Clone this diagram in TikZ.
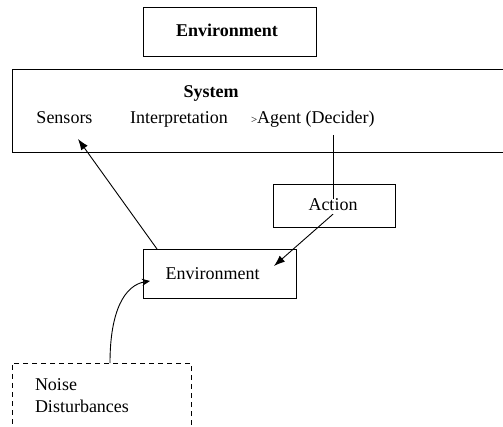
\documentclass[tikz,border=0pt]{standalone}
\usepackage{fontspec}
\setmainfont{Liberation Serif}
\usetikzlibrary{arrows.meta}

\tikzstyle{main}   = [inner sep=0pt, outer sep=0pt, anchor=base, font=\fontsize{18}{22}\selectfont]
\tikzstyle{frame}  = [draw, line width=0.9pt, inner sep=0pt, outer sep=0pt]
\tikzstyle{dframe} = [frame, dash pattern=on 5pt off 4pt]
\tikzstyle{link}   = [line width=0.9pt, -{Latex[length=11pt,width=8pt]}]
\tikzstyle{plain}  = [line width=0.9pt]

\begin{document}
\begin{tikzpicture}[x=1pt, y=-1pt]
  \useasboundingbox (0,0) rectangle (503,427);
  \draw
    node[frame, minimum width=173pt, minimum height=49pt] (envtop) at (229.5,31.5) {}
    node[frame, minimum width=500pt, minimum height=83pt] (system) at (262,110.5) {}
    node[frame, minimum width=122pt, minimum height=43pt] (actbox) at (334,205.5) {}
    node[frame, minimum width=153pt, minimum height=49pt] (envbox) at (219.5,273.5) {}
    node[dframe, minimum width=179pt, minimum height=90pt] (noisebox) at (101.5,408) {};
  \draw
    node[main, font=\fontsize{18}{22}\selectfont\bfseries] (envtoptxt) at (227,37) {Environment}
    node[main, font=\fontsize{18}{22}\selectfont\bfseries] (systxt) at (211,98) {System}
    node[main] (sensors) at (64.5,124) {Sensors}
    node[main] (interp)  at (179,124) {Interpretation}
    node[main, anchor=base west] (agent) at (251,124) {{\fontsize{11}{11}\selectfont >}Agent (Decider)}
    node[main] (action)  at (333,211) {Action}
    node[main] (envtxt)  at (212.5,280) {Environment}
    node[main, anchor=base west] (noise) at (35,390) {Noise}
    node[main, anchor=base west] (disturb) at (35,412) {Disturbances};
  % connectors
  \coordinate (agentout) at (333,135);
  \coordinate (envin)    at (274,266);
  \coordinate (envout)   at (157,249);
  \coordinate (sensin)   at (78,139);
  \coordinate (noiseout) at (110,363);
  \coordinate (noisein)  at (150,281);
  \draw[plain] (agentout) -- (action.north);
  \draw[link] (action.south) ++(0,3) -- (envin);
  \draw[link] (envout) -- (sensin);
  \draw[line width=0.9pt, -{Stealth[length=8pt,width=7pt]}] (noiseout) .. controls (110,310) and (125,285) .. (noisein);
\end{tikzpicture}
\end{document}
